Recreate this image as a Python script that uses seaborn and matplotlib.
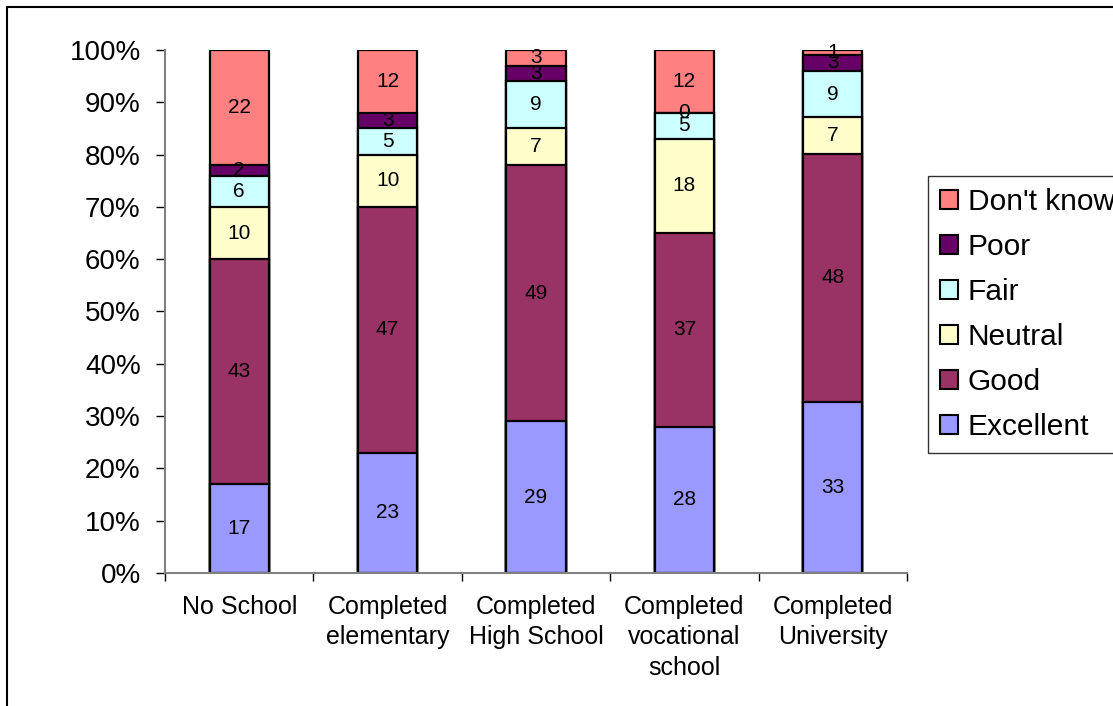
import numpy as np
import pandas as pd
import seaborn as sns
import matplotlib.pyplot as plt
from matplotlib.patches import Rectangle, Patch
from matplotlib.ticker import PercentFormatter

categories = ['No School', 'Completed\nelementary', 'Completed\nHigh School',
              'Completed\nvocational\nschool', 'Completed\nUniversity']
ratings = ['Excellent', 'Good', 'Neutral', 'Fair', 'Poor', "Don't know"]
excellent = [17, 23, 29, 28, 33]
good = [43, 47, 49, 37, 48]
neutral = [10, 10, 7, 18, 7]
fair = [6, 5, 9, 5, 9]
poor = [2, 3, 3, 0, 3]
dont_know = [22, 12, 3, 12, 1]
colors = ['#9999FF', '#993366', '#FFFFCC', '#CCFFFF', '#660066', '#FF8080']

sns.set_style('white')
plt.rcParams['font.family'] = ['Liberation Sans', 'DejaVu Sans']
plt.rcParams['text.color'] = 'black'
plt.rcParams['xtick.color'] = 'black'
plt.rcParams['ytick.color'] = 'black'

vals = np.array([excellent, good, neutral, fair, poor, dont_know], dtype=float)
pct = vals / vals.sum(axis=0) * 100
cum = np.cumsum(pct, axis=0)

fig = plt.figure(figsize=(11.13, 7.06), dpi=100)
ax = fig.add_axes([165 / 1113, 1 - 573 / 706, 742 / 1113, 523 / 706])

# cumulative bars, drawn from the top layer down so each one covers the rest
for i in range(len(ratings) - 1, -1, -1):
    df = pd.DataFrame({'cat': categories, 'top': cum[i]})
    sns.barplot(data=df, x='cat', y='top', order=categories, color=colors[i],
                width=0.4, edgecolor='black', linewidth=1.6, saturation=1, ax=ax)

for i in range(len(ratings)):
    for j in range(len(categories)):
        y = cum[i, j] - pct[i, j] / 2
        ax.text(j, y, f'{int(vals[i, j])}', ha='center', va='center', fontsize=15)

ax.set_xlim(-0.5, 4.5)
ax.set_ylim(0, 100)
ax.set_xlabel('')
ax.set_ylabel('')
ax.yaxis.set_major_formatter(PercentFormatter(decimals=0))
ax.set_yticks(np.arange(0, 101, 10))
ax.tick_params(axis='y', labelsize=20, length=6.5, width=1, direction='out', left=True, pad=11)
ax.set_xticks(range(len(categories)))
ax.set_xticklabels(categories, fontsize=18, linespacing=1.33)
ax.set_xticks(np.arange(-0.5, 5, 1), minor=True)
ax.tick_params(axis='x', which='major', length=0, pad=16)
ax.tick_params(axis='x', which='minor', length=6, width=1, direction='out', bottom=True)
for s in ['top', 'right']:
    ax.spines[s].set_visible(False)
for s in ['left', 'bottom']:
    ax.spines[s].set_color('#808080')
    ax.spines[s].set_linewidth(1.5)

handles = [Patch(facecolor=colors[i], edgecolor='black', linewidth=1.5, label=ratings[i])
           for i in range(len(ratings) - 1, -1, -1)]
leg = fig.legend(handles=handles, loc='upper left', bbox_to_anchor=(928 / 1113, 1 - 176 / 706),
                 fontsize=21.5, frameon=True, fancybox=False, edgecolor='black',
                 handlelength=0.6, handleheight=0.6, handletextpad=0.33,
                 labelspacing=0.57, borderpad=0.4, borderaxespad=0)
leg.get_frame().set_linewidth(1)

fig.patches.append(Rectangle((7 / 1113, -0.1), 1.2, 1 - 7 / 706 + 0.1, transform=fig.transFigure,
                             fill=False, edgecolor='black', linewidth=1.5, zorder=10))

fig.savefig('out.png', dpi=100)
